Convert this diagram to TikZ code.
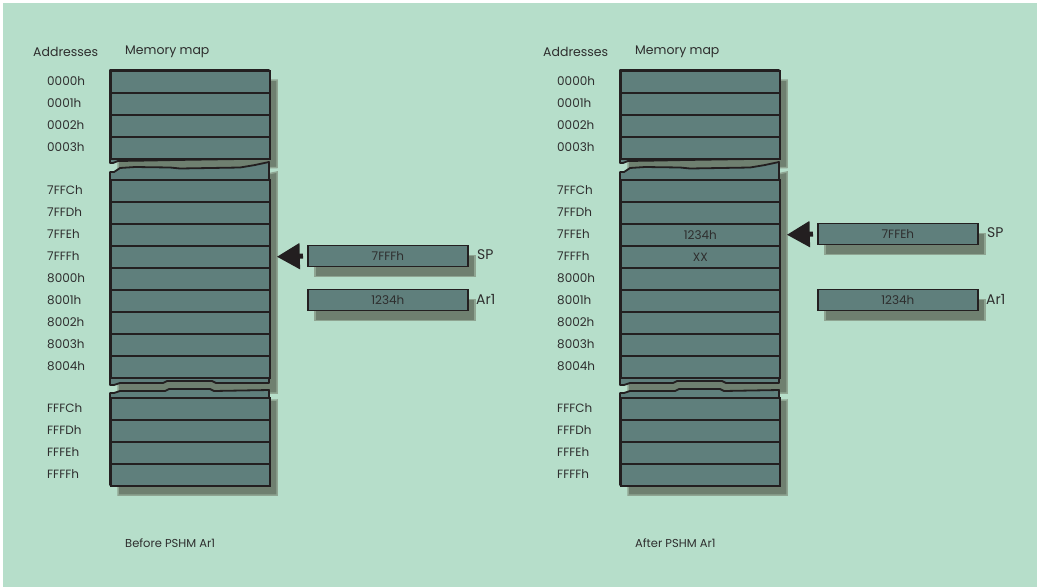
\documentclass[tikz,border=0pt]{standalone}
\usepackage{fontspec}
\setmainfont{Poppins}
\usetikzlibrary{arrows.meta}
\definecolor{bgc}{HTML}{B6DECA}
\definecolor{cellc}{HTML}{5F7F7C}
\definecolor{shadc}{HTML}{6F8070}
\definecolor{shadl}{HTML}{8FA592}
\definecolor{ink}{HTML}{231F20}
\definecolor{txt}{HTML}{2E2E2E}
\tikzset{
  cell/.style={draw=ink, line width=1.8pt, fill=cellc, minimum width=159pt, minimum height=22pt,
    inner sep=0pt, anchor=north west, text=txt, font=\fontsize{12}{14}\selectfont},
  regbox/.style={draw=ink, line width=1.8pt, fill=cellc, minimum width=160pt, minimum height=21pt,
    inner sep=0pt, anchor=west, text=txt, font=\fontsize{12}{14}\selectfont},
  addr/.style={anchor=west, inner sep=0pt, text=txt, font=\fontsize{12}{14}\selectfont},
  head/.style={anchor=west, inner sep=0pt, text=txt, font=\fontsize{12.5}{14}\selectfont},
  biglab/.style={anchor=west, inner sep=0pt, text=txt, font=\fontsize{14}{16}\selectfont},
  caption/.style={anchor=west, inner sep=0pt, text=txt, font=\fontsize{11.5}{13}\selectfont},
  blockfill/.style={fill=cellc, draw=ink, line width=1.8pt, line join=round},
  shade/.style={fill=shadc, draw=shadl, line width=1.5pt},
  ptr/.style={draw=ink, line width=5pt, -{Triangle[length=23pt,width=25pt]}, shorten <=4pt, shorten >=6pt}
}
% #1 prefix, #2 xshift, #3 text of row 7, #4 text of row 8, #5 SP value, #6 SP y, #7 target row, #8 caption
\newcommand\mempanel[8]{%
 \begin{scope}[xshift=#2]
  % shadows
  \begin{scope}[shift={(8,10)}]
   \path[shade] (110,70) -- (269,70) -- (269,157.5) -- (255,158) -- (240,159) -- (175,160) -- (150,160.5)
     -- (118,161) -- (113,163) -- (110,163) -- cycle;
   \path[shade] (110,172) -- (114,172) -- (120,168) -- (135,167) -- (170,167.5) -- (180,168.5) -- (240,167.5)
     -- (255,165) -- (269,162) -- (269,383) -- (216,383) -- (212,381) -- (167,381) -- (163,383) -- (120,383)
     -- (114,385) -- (110,385) -- cycle;
   \path[shade] (110,393) -- (114,393) -- (120,391) -- (165,391) -- (169,389) -- (210,389) -- (214,391)
     -- (269,390) -- (269,485) -- (110,485) -- cycle;
   \path[shade] (307,#6-10.5) rectangle (467,#6+10.5);
   \path[shade] (307,289.5) rectangle (467,310.5);
  \end{scope}
  % torn blocks
  \path[blockfill] (110,70) -- (269,70) -- (269,157.5) -- (255,158) -- (240,159) -- (175,160) -- (150,160.5)
     -- (118,161) -- (113,163) -- (110,163) -- cycle;
  \path[blockfill] (110,172) -- (114,172) -- (120,168) -- (135,167) -- (170,167.5) -- (180,168.5) -- (240,167.5)
     -- (255,165) -- (269,162) -- (269,383) -- (216,383) -- (212,381) -- (167,381) -- (163,383) -- (120,383)
     -- (114,385) -- (110,385) -- cycle;
  \path[blockfill] (110,393) -- (114,393) -- (120,391) -- (165,391) -- (169,389) -- (210,389) -- (214,391)
     -- (269,390) -- (269,485) -- (110,485) -- cycle;
  % cells
  \foreach \lab/\y [count=\i] in {0000h/70,0001h/92,0002h/114,0003h/136,
      7FFCh/179,7FFDh/201,7FFEh/223,7FFFh/245,8000h/267,8001h/289,8002h/311,8003h/333,8004h/355,
      FFFCh/397,FFFDh/419,FFFEh/441,FFFFh/463}{
    \node[cell] (#1c\i) at (110,\y) {\ifnum\i=7 #3\else\ifnum\i=8 #4\fi\fi};
    \node[addr] (#1a\i) at (47,\y+11) {\lab};
  }
  \node[head] (#1hA) at (33,52) {Addresses};
  \node[head] (#1hM) at (125,52) {Memory map};
  \node[regbox] (#1sp) at (307,#6) {#5};
  \node[regbox] (#1ar) at (307,300) {1234h};
  \node[biglab] (#1spl) at (477,#6-1) {SP};
  \node[biglab] (#1arl) at (476,299) {Ar1};
  \node[caption] (#1cap) at (125,543) {#8};
  \draw[ptr] (#1sp.west) -- (#1c#7.east);
 \end{scope}}

\begin{document}
\begin{tikzpicture}[x=1pt,y=-1pt]
\useasboundingbox (0,0) rectangle (1037,587);
\fill[white] (0,0) rectangle (1037,587);
\fill[bgc] (3,3) rectangle (1037,587);
\mempanel{L}{0pt}{}{}{7FFFh}{256}{8}{Before PSHM Ar1}
\mempanel{R}{510pt}{1234h}{XX}{7FFEh}{234}{7}{After PSHM Ar1}
\end{tikzpicture}
\end{document}
